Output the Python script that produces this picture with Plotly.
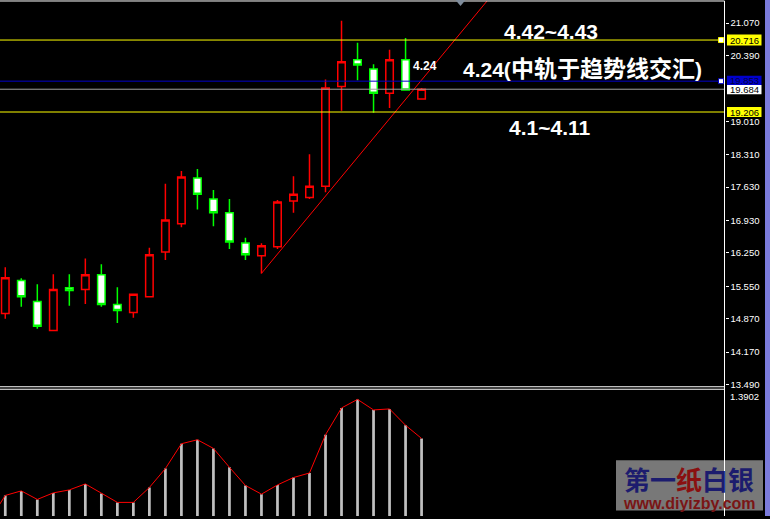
import plotly.graph_objects as go

W, H = 770, 519

# ---------------- data ----------------
candle_idx = list(range(27))
opens  = [14.98, 15.67, 15.23, 14.62, 15.52, 15.48, 15.79, 15.17, 15.00, 15.33,
          16.27, 16.86, 17.82, 17.38, 17.09, 16.46, 16.19, 16.38, 17.34, 17.41,
          17.65, 19.74, 20.30, 20.11, 19.60, 20.30, 19.48]
highs  = [15.95, 15.72, 15.59, 15.80, 15.80, 16.13, 16.01, 15.53, 15.39, 16.36,
          17.70, 17.97, 18.01, 17.57, 17.38, 16.57, 16.45, 17.36, 17.86, 18.32,
          19.89, 21.12, 20.66, 20.21, 20.51, 20.76, 19.71]
lows   = [14.87, 15.12, 14.66, 14.61, 15.14, 15.18, 15.12, 14.78, 14.89, 15.32,
          16.10, 16.79, 17.16, 16.81, 16.33, 16.10, 15.82, 16.33, 17.09, 17.38,
          17.52, 19.23, 19.87, 19.19, 19.29, 19.66, 19.48]
closes = [15.73, 15.33, 14.71, 15.48, 15.46, 15.79, 15.17, 15.04, 15.38, 16.21,
          16.94, 17.84, 17.48, 17.09, 16.48, 16.21, 16.40, 17.32, 17.48, 17.65,
          19.71, 20.26, 20.19, 19.60, 20.30, 19.67, 19.684]

# indicator (lower window), first value belongs to the bar before the visible ones
ind_idx = list(range(-1, 27))
ind_vals = [0.468, 0.646, 0.678, 0.618, 0.664, 0.685, 0.727, 0.660, 0.597, 0.597,
            0.702, 0.835, 1.010, 1.038, 0.977, 0.844, 0.716, 0.655, 0.720, 0.772,
            0.804, 1.073, 1.262, 1.322, 1.248, 1.255, 1.140, 1.047]

# trend line anchors
trend_x = [16, 32]
trend_y = [15.82, 22.31]

# horizontal levels
level_upper = 20.716
level_mid = 19.853
level_bid = 19.684
level_lower = 19.206

tick_vals = [21.070, 20.390, 19.010, 18.310, 17.630, 16.930, 16.250, 15.550, 14.870, 14.170, 13.490]
tick_text = ["%.3f" % v for v in tick_vals]
ind_max_label = "1.3902"

# ---------------- helpers (pixel -> paper) ----------------
def px(x):
    return x / W

def py(y):
    return 1 - y / H

XR = 724.5
FONT = "Liberation Sans, Arial, Noto Sans CJK SC, sans-serif"

fig = go.Figure()

fig.add_trace(go.Candlestick(
    x=candle_idx, open=opens, high=highs, low=lows, close=closes,
    increasing=dict(line=dict(color="#ff0000", width=1.5), fillcolor="#000000"),
    decreasing=dict(line=dict(color="#00ff00", width=1.5), fillcolor="#ffffff"),
    whiskerwidth=0, xaxis="x", yaxis="y", hoverinfo="skip", showlegend=False,
))

fig.add_trace(go.Scatter(
    x=trend_x, y=trend_y, mode="lines", line=dict(color="#ff0000", width=1),
    xaxis="x", yaxis="y", hoverinfo="skip", showlegend=False,
))

fig.add_trace(go.Bar(
    x=ind_idx, y=ind_vals, base=0, width=0.17, marker=dict(color="#c0c0c0", line=dict(width=0)),
    xaxis="x2", yaxis="y2", hoverinfo="skip", showlegend=False,
))
fig.add_trace(go.Scatter(
    x=ind_idx, y=ind_vals, mode="lines", line=dict(color="#ff0000", width=1),
    xaxis="x2", yaxis="y2", hoverinfo="skip", showlegend=False,
))

shapes = []
# horizontal level lines
for lv, col in [(level_upper, "#ffff00"), (level_lower, "#ffff00"),
                (level_mid, "#0000c8"), (level_bid, "#a0a0a0")]:
    shapes.append(dict(type="line", xref="paper", yref="y", x0=0, x1=px(XR), y0=lv, y1=lv,
                       line=dict(color=col, width=1), layer="above"))
# small end squares
for lv, col in [(level_upper, "#ffff00"), (level_mid, "#0000c8")]:
    shapes.append(dict(type="rect", xref="paper", yref="y", xsizemode="pixel", ysizemode="pixel",
                       xanchor=px(721), yanchor=lv, x0=-2.5, x1=2.5, y0=-2.5, y1=2.5,
                       fillcolor="#ffffff", line=dict(color=col, width=1), layer="above"))
# price tag backgrounds (pixel-sized boxes anchored at the levels)
tags = [(level_upper, "#ffff00", "#000000", -5.5, 5.5),
        (level_mid, "#0000cc", "#000040", -3.8, 5.5),
        (level_bid, "#ffffff", "#000000", -5.0, 4.2),
        (level_lower, "#ffff00", "#000000", -5.0, 5.0)]
for lv, bg, fg, lo, hi in tags:
    shapes.append(dict(type="rect", xref="paper", yref="y", ysizemode="pixel", yanchor=lv,
                       x0=px(727), x1=px(761.5), y0=lo, y1=hi,
                       fillcolor=bg, line=dict(width=0), layer="above"))
# watermark box
shapes.append(dict(type="rect", xref="paper", yref="paper", x0=px(616), x1=px(763),
                   y0=py(513.5), y1=py(463), fillcolor="#787878", line=dict(width=0), layer="above"))
# frame lines
shapes += [
    dict(type="line", xref="paper", yref="paper", x0=0, x1=px(XR), y0=py(1), y1=py(1),
         line=dict(color="#ffffff", width=1)),
    dict(type="line", xref="paper", yref="paper", x0=0, x1=px(XR), y0=py(389), y1=py(389),
         line=dict(color="#ffffff", width=1)),
    dict(type="line", xref="paper", yref="paper", x0=0, x1=px(XR), y0=py(391.5), y1=py(391.5),
         line=dict(color="#ffffff", width=1)),
    dict(type="line", xref="paper", yref="paper", x0=px(XR), x1=px(XR), y0=0, y1=py(1),
         line=dict(color="#ffffff", width=1), layer="above"),
]
# right edge strip
shapes.append(dict(type="rect", xref="paper", yref="paper", x0=px(765), x1=1, y0=0, y1=1,
                   fillcolor="#7b7bdb", line=dict(width=0)))
# shift marker triangle
shapes.append(dict(type="path", xref="paper", yref="paper",
                   path="M %f %f L %f %f L %f %f Z" % (px(455.5), py(0), px(465.5), py(0), px(460.5), py(6)),
                   fillcolor="#7f8c9b", line=dict(width=0)))

annotations = []
# right axis price tag texts
for lv, bg, fg, lo, hi in tags:
    annotations.append(dict(xref="paper", yref="y", x=px(744.2), y=lv, xanchor="center", yanchor="middle",
                            yshift=(lo + hi) / 2, text="%.3f" % lv, showarrow=False,
                            font=dict(family=FONT, size=9.5, color=fg)))
annotations.append(dict(xref="paper", yref="paper", x=px(728), y=py(399), xanchor="left", yanchor="middle",
                        text=ind_max_label, showarrow=False, font=dict(family=FONT, size=9.5, color="#ffffff")))

# chart texts
big = dict(family=FONT, size=21, color="#ffffff", weight="bold")
annotations += [
    dict(xref="paper", yref="paper", x=px(551), y=py(31.5), text="4.42~4.43", showarrow=False,
         xanchor="center", yanchor="middle", font=big),
    dict(xref="paper", yref="paper", x=px(582.5), y=py(69),
         text='4.24(<span style="font-size:23px">中轨于趋势线交汇</span>)', showarrow=False,
         xanchor="center", yanchor="middle", font=big),
    dict(xref="paper", yref="paper", x=px(549), y=py(128), text="4.1~4.11", showarrow=False,
         xanchor="center", yanchor="middle", font=big),
    dict(xref="paper", yref="paper", x=px(424.5), y=py(66), text="4.24", showarrow=False,
         xanchor="center", yanchor="middle", font=dict(family=FONT, size=12, color="#ffffff", weight="bold")),
]
# watermark text
annotations += [
    dict(xref="paper", yref="paper", x=px(689), y=py(481), showarrow=False, xanchor="center", yanchor="middle",
         text='<span style="color:#1c1c6e">第一</span><span style="color:#8a1010">纸</span><span style="color:#1c1c6e">白银</span>',
         font=dict(family="Noto Sans CJK SC, sans-serif", size=26, weight="bold")),
    dict(xref="paper", yref="paper", x=px(689), y=py(506.5), showarrow=False, xanchor="center", yanchor="middle",
         text="www.diyizby.com", font=dict(family=FONT, size=16, color="#7a1515", weight="bold")),
]

fig.update_layout(
    width=W, height=H,
    margin=dict(l=0, r=0, t=0, b=0),
    paper_bgcolor="#000000", plot_bgcolor="#000000",
    showlegend=False, boxgap=0.33,
    xaxis=dict(domain=[0, px(XR)], range=[-0.33, 44.92], showgrid=False, zeroline=False,
               showticklabels=False, ticks="", rangeslider=dict(visible=False), fixedrange=True),
    yaxis=dict(domain=[py(389), py(1)], range=[13.442, 21.535], side="right", anchor="x",
               tickvals=tick_vals, ticktext=tick_text, ticks="outside", ticklen=3, tickcolor="#ffffff",
               tickfont=dict(family=FONT, size=9.5, color="#ffffff"), showgrid=False, zeroline=False,
               showline=False),
    xaxis2=dict(domain=[0, px(XR)], matches="x", anchor="y2", showgrid=False, zeroline=False,
                showticklabels=False, ticks=""),
    yaxis2=dict(domain=[0, py(391.5)], range=[0.5012, 1.3937], anchor="x2", side="right",
                showgrid=False, zeroline=False, showticklabels=False, ticks=""),
    shapes=shapes, annotations=annotations,
)

fig.write_html("out.html", config={"displayModeBar": False},
               post_script="document.body.style.margin='0';document.body.style.background='#000';")
